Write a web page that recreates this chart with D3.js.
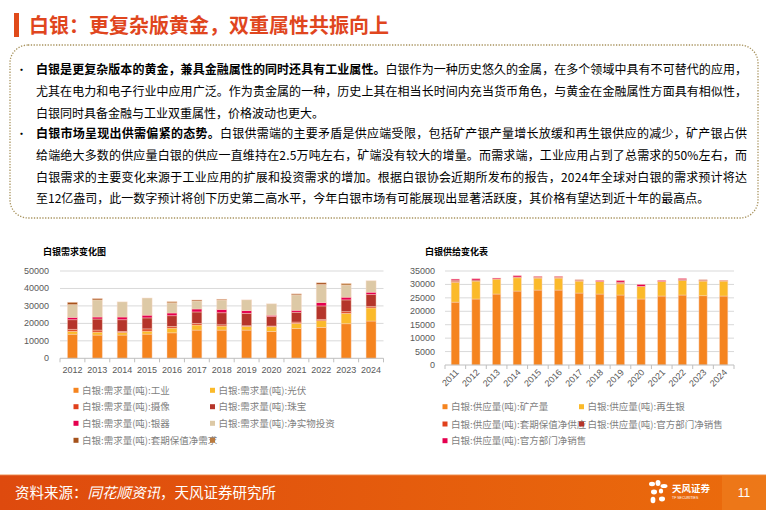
<!DOCTYPE html>
<html><head><meta charset="utf-8">
<script src="https://cdn.jsdelivr.net/npm/d3@7"></script>
<style>body{margin:0;background:#fff} svg{display:block}</style>
</head><body><svg id="c" width="766" height="510"></svg>
<script>
// ---------- DATA ----------
const titleText = "白银：更复杂版黄金，双重属性共振向上";
const paraLines = [
  {bullet:true, bold:"白银是更复杂版本的黄金，兼具金融属性的同时还具有工业属性。", text:"白银作为一种历史悠久的金属，在多个领域中具有不可替代的应用，", full:true},
  {bullet:false, bold:"", text:"尤其在电力和电子行业中应用广泛。作为贵金属的一种，历史上其在相当长时间内充当货币角色，与黄金在金融属性方面具有相似性，", full:true},
  {bullet:false, bold:"", text:"白银同时具备金融与工业双重属性，价格波动也更大。", full:false},
  {bullet:true, bold:"白银市场呈现出供需偏紧的态势。", text:"白银供需端的主要矛盾是供应端受限，包括矿产银产量增长放缓和再生银供应的减少，矿产银占供", full:true},
  {bullet:false, bold:"", text:"给端绝大多数的供应量白银的供应一直维持在2.5万吨左右，矿端没有较大的增量。而需求端，工业应用占到了总需求的50%左右，而", full:true},
  {bullet:false, bold:"", text:"白银需求的主要变化来源于工业应用的扩展和投资需求的增加。根据白银协会近期所发布的报告，2024年全球对白银的需求预计将达", full:true},
  {bullet:false, bold:"", text:"至12亿盎司，此一数字预计将创下历史第二高水平，今年白银市场有可能展现出显著活跃度，其价格有望达到近十年的最高点。", full:false}
];

const demandTitle = "白银需求变化图";
const demandYears = ["2012","2013","2014","2015","2016","2017","2018","2019","2020","2021","2022","2023","2024"];
const demandIndustry   = [13800,13300,13300,13850,14600,16150,16150,16150,15400,17100,17700,19800,21350];
const demandPV         = [1700,1700,1500,1700,2700,2900,2300,2100,2700,2900,3850,5950,7500];
const demandPhoto      = [1100,1150,600,1300,950,950,750,400,400,750,750,950,750];
const demandJewelry    = [5500,6350,6700,6300,6150,6550,6900,7100,5400,5600,7700,6750,6900];
const demandSilverware = [1350,1150,1550,1550,1550,1700,1900,1550,750,1150,1900,1550,1350];
const demandInvest     = [7300,9800,8650,9800,5800,4600,5400,6150,6550,8850,10400,6900,6550];
const demandHedging    = [1300,750,0,0,0,550,400,0,0,550,950,0,0];
const demandOther      = [0,0,0,0,700,0,0,0,0,0,0,950,0];
const demandTicks = [0,10000,20000,30000,40000,50000];
const demandNames = ["白银:需求量(吨):工业","白银:需求量(吨):光伏","白银:需求量(吨):摄像","白银:需求量(吨):珠宝","白银:需求量(吨):银器","白银:需求量(吨):净实物投资","白银:需求量(吨):套期保值净需求",""];

const supplyTitle = "白银供给变化表";
const supplyYears = ["2011","2012","2013","2014","2015","2016","2017","2018","2019","2020","2021","2022","2023","2024"];
const supplyMine     = [23400,24570,26420,27530,27900,27900,26790,26420,26050,24570,25680,26050,25800,25680];
const supplyRecycled = [7400,6660,5560,4940,4450,4450,4440,4680,4200,4690,5430,5430,5430,5550];
const supplyHedging  = [400,0,0,300,250,250,300,0,300,0,0,0,300,250];
const supplyOfficial = [400,400,0,0,150,150,200,0,300,0,0,370,200,0];
const supplyOfficial2= [400,500,370,500,250,250,0,370,600,740,370,370,0,0];
const supplyTicks = [0,5000,10000,15000,20000,25000,30000,35000];
const supplyNames = ["白银:供应量(吨):矿产量","白银:供应量(吨):再生银","白银:供应量(吨):套期保值净供应","白银:供应量(吨):官方部门净销售","白银:供应量(吨):官方部门净销售"];

const sourceLabel = "资料来源：";
const sourceItalic = "同花顺资讯";
const sourceRest = "，天风证券研究所";
const pageNum = "11";

// ---------- STYLE ----------
const demandColors = ["#F5841F","#FBBA2A","#E0401C","#B5352A","#E5004F","#DDC9A6","#A5521B","#BA7B3F"];
const supplyColors = ["#F5841F","#FBBA2A","#E0401C","#B5352A","#E5004F"];
const CJK = "'Noto Sans CJK SC','Noto Sans',sans-serif";
const NUM = "'Liberation Sans',Arial,sans-serif";
const svg = d3.select("#c");

// ---------- HEADER ----------
svg.append("rect").attr("x",14).attr("y",13).attr("width",5).attr("height",24).attr("fill","#E04A1A");
svg.append("text").attr("x",29).attr("y",33).attr("font-family",CJK).attr("font-weight","bold")
  .attr("font-size",20).attr("fill","#E0461E").text(titleText);

// text box
svg.append("rect").attr("x",10).attr("y",45).attr("width",748).attr("height",173).attr("rx",18)
  .attr("fill","none").attr("stroke","#A8935E").attr("stroke-width",1.3).attr("stroke-dasharray","1.3,1.5");

const lineY = [74,96,118,138,160,182,203];
paraLines.forEach((ln,i)=>{
  if(ln.bullet) svg.append("text").attr("x",16).attr("y",lineY[i]).attr("font-family",CJK)
     .attr("font-size",11).attr("fill","#000").text("•");
  const t = svg.append("text").attr("x",36).attr("y",lineY[i]).attr("font-family",CJK)
     .attr("font-size",12).attr("fill","#000");
  if(ln.full) t.attr("textLength",711).attr("lengthAdjust","spacing");
  if(ln.bold) t.append("tspan").attr("font-weight","bold").text(ln.bold);
  t.append("tspan").text(ln.text);
});

// ---------- STACKED BAR helper ----------
function stackedChart(cfg){
  const g = svg.append("g");
  const x = d3.scaleBand().domain(cfg.years).range(cfg.xr).paddingInner(0.6).paddingOuter(0.3);
  const y = d3.scaleLinear().domain([0,cfg.max]).range(cfg.yr);
  // grid
  g.selectAll(".grid").data(cfg.ticks.filter(d=>d>0)).join("line")
    .attr("x1",cfg.xr[0]).attr("x2",cfg.xr[1]).attr("y1",d=>y(d)).attr("y2",d=>y(d))
    .attr("stroke","#D9D9D9").attr("stroke-width",1);
  // y labels
  g.selectAll(".yl").data(cfg.ticks).join("text")
    .attr("x",cfg.ylx).attr("y",d=>y(d)+3).attr("text-anchor","end")
    .attr("font-family",NUM).attr("font-size",9).attr("fill","#595959").text(d=>d);
  // stacks
  const rows = cfg.years.map((yr,i)=>{const o={year:yr}; cfg.series.forEach((s,k)=>o["s"+k]=s[i]); return o;});
  const keys = cfg.series.map((s,k)=>"s"+k);
  const stack = d3.stack().keys(keys)(rows);
  stack.forEach((layer,k)=>{
    g.append("g").selectAll("rect").data(layer.filter(d=>d[1]-d[0]>0)).join("rect")
      .attr("x",d=>x(d.data.year)).attr("width",x.bandwidth())
      .attr("y",d=>y(d[1])).attr("height",d=>y(d[0])-y(d[1]))
      .attr("fill",cfg.colors[k]).attr("stroke","rgba(250,215,195,0.55)").attr("stroke-width",0.8);
  });
  // axis baseline + ticks
  g.append("line").attr("x1",cfg.xr[0]).attr("x2",cfg.xr[1]).attr("y1",y(0)).attr("y2",y(0))
    .attr("stroke","#BFBFBF");
  const step = x.step();
  const bounds = d3.range(cfg.years.length+1).map(i=>cfg.xr[0]+i*step);
  g.selectAll(".tk").data(bounds).join("line").attr("x1",d=>d).attr("x2",d=>d)
    .attr("y1",y(0)).attr("y2",y(0)+4).attr("stroke","#BFBFBF");
  // x labels
  const xl = g.selectAll(".xl").data(cfg.years).join("text")
    .attr("font-family",NUM).attr("font-size",9).attr("fill","#595959").text(d=>d);
  if(cfg.rotate){
    xl.attr("text-anchor","end")
      .attr("transform",d=>`translate(${x(d)+x.bandwidth()/2+4},${y(0)+8}) rotate(-45)`);
  } else {
    xl.attr("text-anchor","middle").attr("x",d=>x(d)+x.bandwidth()/2).attr("y",y(0)+15);
  }
  // title
  g.append("text").attr("x",cfg.tx).attr("y",255).attr("font-family",CJK).attr("font-weight","bold")
    .attr("font-size",9).attr("fill","#000").text(cfg.title);
  // legend
  cfg.names.forEach((nm,k)=>{
    const col = k%2, row = Math.floor(k/2);
    const mx = cfg.legX[col], my = cfg.legY[row];
    g.append("rect").attr("x",mx).attr("y",my-2.5).attr("width",5).attr("height",5).attr("fill",cfg.colors[k]);
    if(nm) g.append("text").attr("x",mx+8.5).attr("y",my+3.5).attr("font-family",CJK)
      .attr("font-size",9.5).attr("fill","#7F7F7F").text(nm);
  });
}

stackedChart({
  years:demandYears, xr:[60,383.5], yr:[358.3,271], max:50000, ticks:demandTicks, ylx:49,
  series:[demandIndustry,demandPV,demandPhoto,demandJewelry,demandSilverware,demandInvest,demandHedging,demandOther],
  colors:demandColors, names:demandNames, title:demandTitle, tx:43, rotate:false,
  legX:[73.5,210], legY:[390.3,406.7,423.3,440.3]
});
stackedChart({
  years:supplyYears, xr:[445,734], yr:[365,271], max:35000, ticks:supplyTicks, ylx:435,
  series:[supplyMine,supplyRecycled,supplyHedging,supplyOfficial,supplyOfficial2],
  colors:supplyColors, names:supplyNames, title:supplyTitle, tx:425, rotate:true,
  legX:[442.5,579], legY:[406.7,424,440.7]
});

// ---------- FOOTER ----------
const defs = svg.append("defs");
const gr = defs.append("linearGradient").attr("id","fg").attr("x1","0").attr("x2","1");
gr.append("stop").attr("offset","0").attr("stop-color","#DE4A0E");
gr.append("stop").attr("offset","1").attr("stop-color","#EB6C0C");
svg.append("rect").attr("x",0).attr("y",475).attr("width",766).attr("height",35).attr("fill","url(#fg)");
svg.append("rect").attr("x",0).attr("y",474).attr("width",766).attr("height",1.2).attr("fill","#F7C9A8");
svg.append("rect").attr("x",722).attr("y",475).attr("width",44).attr("height",35).attr("fill","#F08424").attr("opacity",0.5);
const ft = svg.append("text").attr("x",15).attr("y",498).attr("font-family",CJK).attr("font-size",14.5).attr("fill","#fff");
ft.append("tspan").text(sourceLabel);
ft.append("tspan").attr("font-style","italic").text(sourceItalic);
ft.append("tspan").text(sourceRest);
// logo
const lg = svg.append("g").attr("fill","#fff");
[[652,484,3,2.2],[658,483,2.5,3],[664,486,3.5,2],[654,492,3,2.4],[661,491,2.2,2.6],[653,500,2.4,3.2],[662,499,3,2.4]].forEach(e=>{
  lg.append("ellipse").attr("cx",e[0]).attr("cy",e[1]).attr("rx",e[2]).attr("ry",e[3]);
});
lg.append("text").attr("x",672).attr("y",492).attr("font-family",CJK).attr("font-weight","bold").attr("font-size",9.5).text("天风证券");
lg.append("text").attr("x",672).attr("y",499).attr("font-family",NUM).attr("font-size",3.5).text("TF SECURITIES");
svg.append("text").attr("x",744).attr("y",497).attr("text-anchor","middle").attr("font-family",NUM)
  .attr("font-size",12).attr("fill","#fff").text(pageNum);
</script></body></html>
